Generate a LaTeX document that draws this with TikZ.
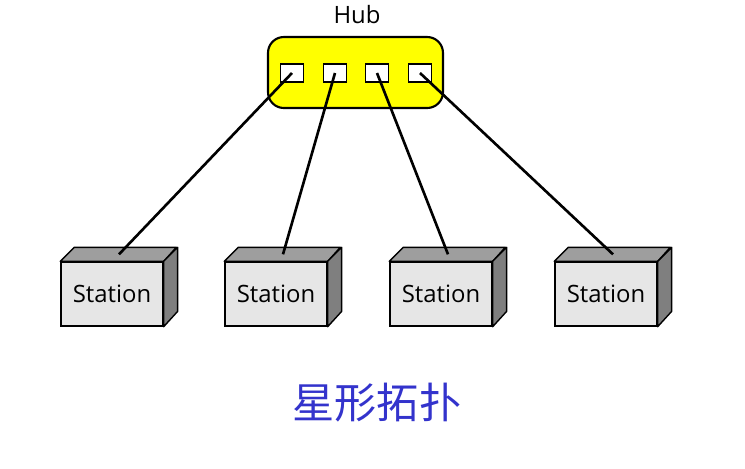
\documentclass[tikz,border=0pt]{standalone}
\usepackage{fontspec}
\usetikzlibrary{calc}
\setsansfont{Open Sans}
\newfontfamily\cjk{Noto Sans CJK SC}
\definecolor{hubyellow}{HTML}{FFFF00}
\definecolor{frontgray}{HTML}{E6E6E6}
\definecolor{topgray}{HTML}{9E9E9E}
\definecolor{sidegray}{HTML}{7F7F7F}
\definecolor{titleblue}{HTML}{3333CC}
\begin{document}
\begin{tikzpicture}[x=0.02cm,y=-0.02cm,
  hubsty/.style={draw,line width=1.2pt,fill=hubyellow,rounded corners=9pt,
    minimum width=3.5cm,minimum height=1.42cm,inner sep=0pt},
  port/.style={draw,line width=0.9pt,fill=white,minimum width=0.46cm,
    minimum height=0.36cm,inner sep=0pt},
  station/.style={draw,line width=0.8pt,fill=frontgray,minimum width=2.04cm,
    minimum height=1.28cm,inner sep=0pt,font=\sffamily\fontsize{13.6}{15}\selectfont},
  face/.style={draw,line width=0.8pt,line join=round},
  wire/.style={line width=1.5pt},
  labelsty/.style={font=\sffamily\fontsize{13.6}{15}\selectfont}]

  \useasboundingbox (0,0) rectangle (745,468);

  \node[hubsty] (hub) at (355.5,72.5) {};
  \node[labelsty] (hublabel) at (357,15) {Hub};
  \foreach \i/\x in {1/292,2/335,3/377,4/420}
    \node[port] (p\i) at (\x,73) {};

  \foreach \i/\x in {1/112,2/276,3/441,4/606}{
    \node[station] (s\i) at (\x,294) {Station};
    \draw[face,fill=topgray] (s\i.north west) -- ++(14,-14) -- ++(102,0)
      -- (s\i.north east) -- cycle;
    \draw[face,fill=sidegray] (s\i.north east) -- ++(14,-14) -- ++(0,64)
      -- (s\i.south east) -- cycle;
    \coordinate (t\i) at ($(s\i.north)+(7,-7)$);
  }

  \foreach \i in {1,...,4}
    \draw[wire] (p\i.center) -- (t\i);

  \node[text=titleblue,font=\cjk\fontsize{24}{28}\selectfont] (title) at (377,403) {星形拓扑};

\end{tikzpicture}
\end{document}
